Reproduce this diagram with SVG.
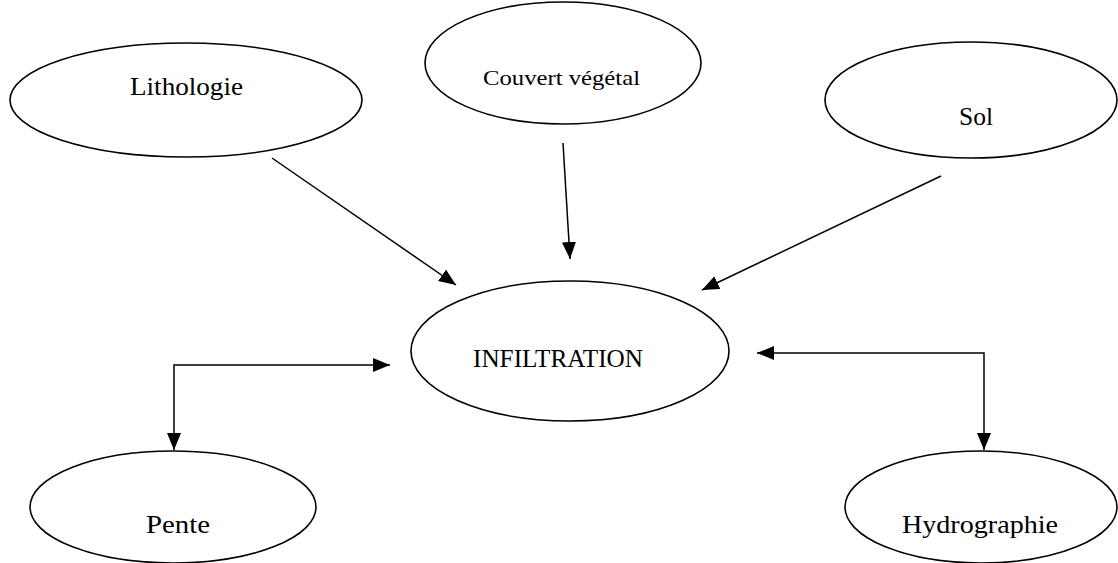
<svg xmlns="http://www.w3.org/2000/svg" width="1118" height="563" viewBox="0 0 1118 563">
<style>
.node{fill:#fff;stroke:#000;stroke-width:1.6}
.lbl{font-family:"Liberation Serif","DejaVu Serif",serif;font-size:25px;fill:#000}
.sm{font-size:21px}
.edge{fill:none;stroke:#000;stroke-width:1.5}
</style>
<defs>
<marker id="ah" markerUnits="userSpaceOnUse" markerWidth="19" markerHeight="15" refX="17" refY="7" orient="auto">
<path d="M0,0 L17,7 L0,14 z" fill="#000"/>
</marker>
</defs>
<rect width="1118" height="563" fill="#fff"/>
<g id="connectors">
<line class="edge" x1="272" y1="158" x2="456" y2="285" marker-end="url(#ah)"/>
<line class="edge" x1="563" y1="143" x2="570" y2="259" marker-end="url(#ah)"/>
<line class="edge" x1="941" y1="176" x2="702" y2="290" marker-end="url(#ah)"/>
<path class="edge" d="M174,450 L174,365 L390,365" marker-end="url(#ah)"/>
<path class="edge" d="M757,353 L984,353 L984,450" marker-end="url(#ah)"/>
<path d="M757,353 L774,346 L774,360 z" fill="#000"/>
<path d="M174,450 L167,433 L181,433 z" fill="#000"/>
</g>
<g id="lithologie">
<ellipse class="node" cx="186" cy="100" rx="176" ry="57"/>
<text class="lbl" x="130" y="95" textLength="113" lengthAdjust="spacingAndGlyphs">Lithologie</text>
</g>
<g id="couvert">
<ellipse class="node" cx="563" cy="63" rx="138" ry="61"/>
<text class="lbl sm" x="483" y="85" textLength="157" lengthAdjust="spacingAndGlyphs">Couvert végétal</text>
</g>
<g id="sol">
<ellipse class="node" cx="971" cy="100" rx="146" ry="58"/>
<text class="lbl" x="959" y="125" textLength="34" lengthAdjust="spacingAndGlyphs">Sol</text>
</g>
<g id="infiltration">
<ellipse class="node" cx="570" cy="351" rx="159" ry="70"/>
<text class="lbl" x="473" y="367" textLength="170" lengthAdjust="spacingAndGlyphs">INFILTRATION</text>
</g>
<g id="pente">
<ellipse class="node" cx="173" cy="507" rx="143" ry="56"/>
<text class="lbl" x="146" y="533" textLength="64" lengthAdjust="spacingAndGlyphs">Pente</text>
</g>
<g id="hydrographie">
<ellipse class="node" cx="981" cy="507" rx="136" ry="56"/>
<text class="lbl" x="902" y="533" textLength="156" lengthAdjust="spacingAndGlyphs">Hydrographie</text>
</g>
</svg>
